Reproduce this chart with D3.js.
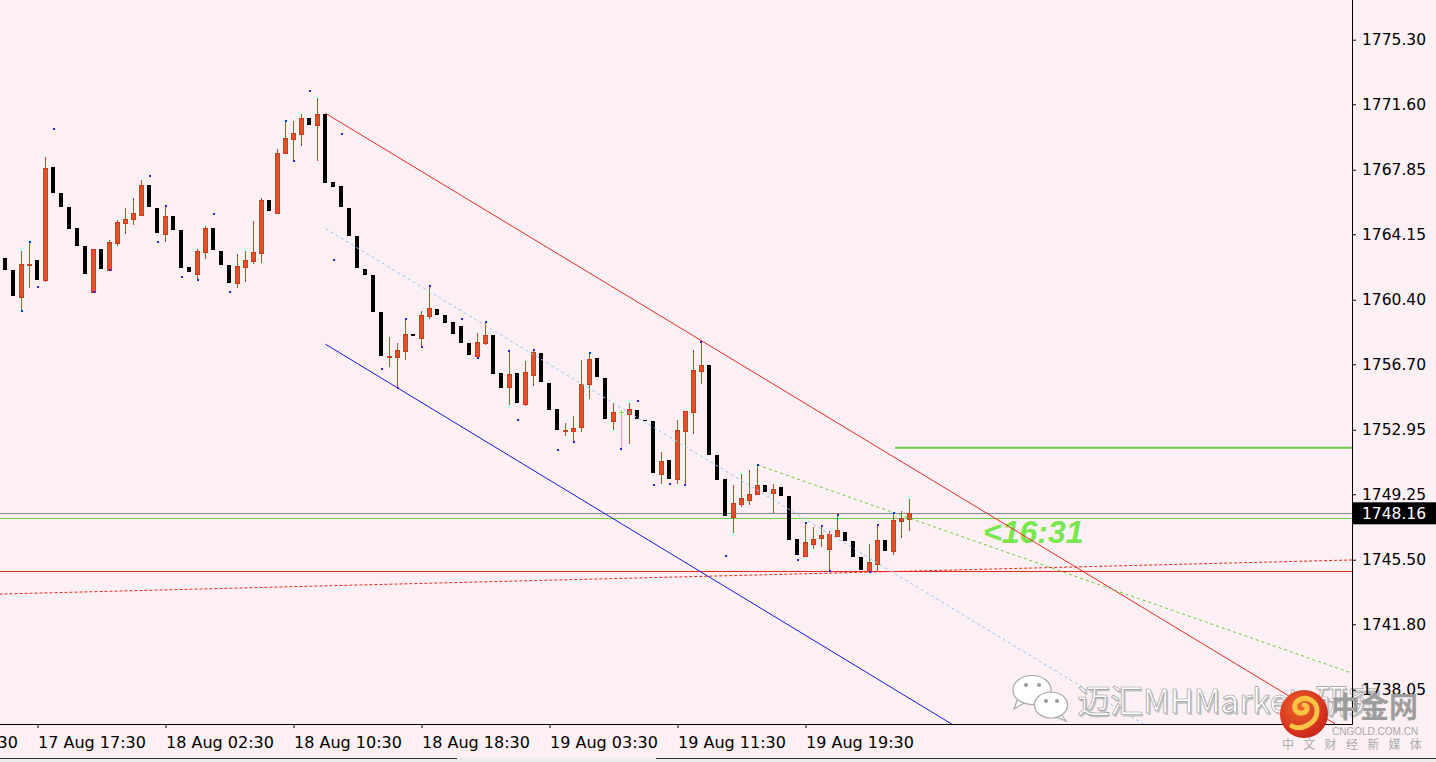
<!DOCTYPE html>
<html><head><meta charset="utf-8">
<script src="https://cdn.jsdelivr.net/npm/d3@7"></script>
<style>html,body{margin:0;padding:0;background:#fcf0f4;overflow:hidden}svg{display:block}</style>
</head><body><svg id="c" width="1436" height="762"></svg>
<script>
// ---------- DATA (XAUUSD M30) ----------
const candleOpen = [
1762.77,1762.10,1760.57,1762.42,1762.68,1761.55,1767.99,1766.50,1765.71,1764.51,
1763.48,1760.86,1763.31,1762.12,1763.67,1764.81,1765.04,1765.27,1766.96,1765.66,
1764.18,1765.20,1764.40,1762.28,1761.89,1763.15,1764.51,1763.19,1762.39,1761.38,
1762.29,1762.62,1763.09,1766.11,1765.39,1768.83,1769.63,1769.91,1770.81,1770.43,
1771.04,1767.15,1766.92,1765.66,1764.05,1762.16,1761.82,1759.70,1757.15,1757.14,
1757.48,1758.44,1758.22,1759.48,1759.87,1759.52,1759.12,1758.89,1757.92,1757.19,
1757.94,1758.38,1756.20,1755.42,1756.20,1754.42,1756.10,1757.35,1755.63,1754.14,
1752.93,1752.89,1753.12,1755.59,1757.06,1755.91,1753.47,1753.91,1753.87,1754.08,
1753.49,1753.45,1750.40,1751.21,1750.14,1752.89,1753.98,1756.33,1756.66,1751.50,
1750.13,1747.97,1748.71,1748.94,1749.25,1749.78,1749.34,1749.69,1749.15,1746.69,
1745.73,1746.42,1746.76,1746.13,1746.88,1747.09,1746.57,1745.66,1744.84,1745.27,
1746.63,1746.02,1747.74,1747.83];
const candleHigh = [
1762.77,1762.10,1763.19,1763.72,1762.68,1768.58,1770.18,1766.50,1765.71,1764.51,
1763.48,1763.29,1763.31,1763.81,1764.97,1765.66,1766.23,1767.26,1767.49,1765.66,
1765.77,1765.20,1764.40,1762.28,1763.29,1764.62,1765.31,1763.19,1762.39,1763.02,
1763.19,1764.91,1766.21,1766.11,1769.02,1770.66,1770.64,1771.04,1772.36,1771.96,
1771.10,1767.15,1769.91,1765.66,1764.05,1762.16,1761.82,1759.70,1758.26,1757.92,
1759.31,1758.44,1759.75,1761.20,1759.87,1759.52,1759.12,1759.30,1757.92,1758.49,
1759.12,1758.38,1756.20,1757.48,1756.20,1756.89,1757.52,1757.35,1755.63,1754.14,
1753.34,1753.74,1756.95,1757.35,1757.06,1755.91,1754.46,1754.08,1754.46,1754.60,
1753.49,1753.45,1751.67,1751.21,1753.51,1754.02,1757.52,1757.99,1756.66,1751.50,
1750.13,1749.78,1750.41,1750.64,1750.95,1749.78,1749.84,1749.69,1749.15,1746.69,
1747.66,1747.39,1747.45,1747.15,1748.08,1747.09,1746.57,1745.66,1746.40,1747.51,
1746.63,1748.20,1748.29,1748.98];
const candleLow = [
1762.10,1760.61,1759.77,1761.09,1761.13,1761.43,1766.53,1765.73,1764.47,1763.50,
1761.89,1760.84,1762.18,1762.10,1763.50,1764.18,1764.70,1765.27,1765.73,1763.71,
1763.72,1764.40,1761.70,1761.99,1761.53,1762.73,1763.25,1762.39,1760.84,1761.07,
1761.42,1762.46,1762.50,1765.48,1765.39,1768.75,1768.35,1769.23,1770.43,1768.37,
1767.11,1762.68,1765.73,1764.07,1762.23,1761.82,1759.71,1756.43,1756.54,1755.32,
1756.96,1758.34,1757.69,1759.31,1759.54,1759.08,1758.45,1757.94,1757.25,1757.04,
1757.82,1756.16,1755.36,1754.38,1753.51,1754.33,1755.47,1755.70,1754.10,1751.79,
1752.61,1752.23,1752.84,1754.69,1755.99,1753.58,1752.95,1751.83,1752.15,1753.58,
1753.45,1749.78,1749.82,1749.84,1749.82,1749.78,1752.72,1755.59,1751.50,1750.07,
1745.73,1747.01,1748.54,1748.65,1749.25,1749.40,1748.20,1749.17,1746.65,1745.50,
1745.73,1746.13,1746.21,1744.87,1746.88,1746.57,1745.66,1744.91,1744.80,1744.84,
1746.00,1745.79,1746.75,1747.16];
const candleClose = [
1762.10,1760.61,1762.45,1762.45,1761.53,1767.93,1766.53,1765.73,1764.47,1763.50,
1761.89,1763.29,1762.18,1763.69,1764.84,1765.01,1765.35,1766.96,1765.73,1764.22,
1765.20,1764.40,1762.22,1761.99,1763.17,1764.51,1763.25,1762.39,1761.36,1762.33,
1762.66,1763.12,1766.10,1765.48,1768.79,1769.65,1769.94,1770.80,1770.43,1771.04,
1767.11,1766.86,1765.73,1764.07,1762.23,1761.82,1759.71,1757.18,1757.16,1757.52,
1758.44,1758.34,1759.52,1759.93,1759.54,1759.08,1758.45,1757.94,1757.25,1757.98,
1758.38,1756.16,1755.36,1756.14,1754.50,1756.26,1757.40,1755.70,1754.10,1752.95,
1752.95,1753.05,1755.55,1757.00,1755.99,1753.58,1753.97,1753.91,1754.12,1753.58,
1753.45,1750.45,1751.16,1750.14,1752.93,1754.02,1756.37,1756.66,1751.50,1750.07,
1748.02,1748.75,1749.04,1749.27,1749.78,1749.40,1749.55,1749.17,1746.65,1745.77,
1746.52,1746.69,1746.92,1746.96,1747.19,1746.57,1745.66,1744.91,1745.37,1746.63,
1746.00,1747.78,1747.89,1748.16];

// fractal marker points (bar index, price)
const fractalBars = [2,3,4,6,11,13,18,19,20,22,24,26,28,35,36,38,41,42,47,49,50,52,53,57,59,60,63,64,66,69,71,73,77,79,81,83,85,87,90,94,99,100,102,103,104,108,109,111];
const fractalPrices = [1759.77,1763.71,1761.13,1770.18,1760.84,1762.10,1767.49,1763.71,1765.77,1761.70,1761.53,1765.31,1760.84,1770.66,1768.35,1772.36,1762.68,1769.91,1756.43,1755.34,1759.30,1757.69,1761.19,1759.30,1757.06,1759.12,1757.46,1753.51,1757.52,1751.79,1752.25,1757.35,1751.85,1754.60,1749.78,1749.84,1749.80,1757.98,1745.73,1750.93,1745.50,1747.62,1747.45,1744.87,1748.08,1744.81,1747.51,1748.20];

// price axis
const priceTicks = [1775.30,1771.60,1767.85,1764.15,1760.40,1756.70,1752.95,1749.25,1745.50,1741.80,1738.05];
const lastPrice = 1748.16;
// time axis
const timeTickBars = [-12,4,20,36,52,68,84,100];
const timeLabels = ["17 Aug 09:30","17 Aug 17:30","18 Aug 02:30","18 Aug 10:30","18 Aug 18:30","19 Aug 03:30","19 Aug 11:30","19 Aug 19:30"];

// drawn objects (two anchor points each: bar index, price)
const channelBars = [40, 87];
const channelUpper = [1771.08, 1758.05];
const channelMid = [1764.47, 1751.42];
const channelLower = [1757.85, 1744.78];
const greenTrendBars = [94, 111];
const greenTrendPrices = [1750.93, 1748.20];
const maBars = [0, 160];
const maPrices = [1743.54, 1745.39];
const greenLevel = 1747.87;
const redLevel = 1744.84;
const resistanceBar = 111.2;
const resistanceLevel = 1751.92;
const timerText = "<16:31";

// ---------- CHART ----------
const W = 1436, H = 762, PR = 1352, PB = 724;
const svg = d3.select("#c");
const x = d3.scaleLinear().domain([0, 113]).range([5.5, 909.5]);
const y = d3.scaleLinear().domain([lastPrice, 1775.30]).range([513.3, 39.7]);
const IDX_MAX = 175;

svg.append("rect").attr("width", W).attr("height", H).attr("fill", "#fcf0f4");
const defs = svg.append("defs");
defs.append("clipPath").attr("id", "plot").append("rect").attr("x", 0).attr("y", 0).attr("width", PR).attr("height", PB);
const rg = defs.append("radialGradient").attr("id", "logoG").attr("cx", "40%").attr("cy", "35%").attr("r", "70%");
rg.append("stop").attr("offset", "0%").attr("stop-color", "#f0642a");
rg.append("stop").attr("offset", "100%").attr("stop-color", "#c8221a");

const plot = svg.append("g").attr("clip-path", "url(#plot)");

// horizontal levels
function hline(p, color, w, x0) {
  plot.append("line").attr("x1", x0 || 0).attr("x2", PR)
    .attr("y1", Math.round(y(p)) + 0.5).attr("y2", Math.round(y(p)) + 0.5)
    .attr("stroke", color).attr("stroke-width", w);
}
hline(redLevel, "#e8291c", 1);
hline(greenLevel, "#6fcf45", 1);
hline(lastPrice, "#8c8c8c", 1);
plot.append("line").attr("x1", x(resistanceBar)).attr("x2", PR)
  .attr("y1", y(resistanceLevel)).attr("y2", y(resistanceLevel))
  .attr("stroke", "#66c844").attr("stroke-width", 2);

// timer text
plot.append("text").attr("x", 983).attr("y", 543).text(timerText)
  .attr("font-family", "Liberation Sans, Arial, sans-serif").attr("font-size", 32)
  .attr("font-weight", "bold").attr("font-style", "italic").attr("fill", "#76e84c");

// candles
const bars = d3.range(candleOpen.length);
const cg = plot.append("g").attr("shape-rendering", "crispEdges");
bars.forEach(i => {
  const o = candleOpen[i], c = candleClose[i], h = candleHigh[i], l = candleLow[i];
  const cx = x(i);
  if (c > o) {
    cg.append("line").attr("x1", cx).attr("x2", cx).attr("y1", y(h)).attr("y2", y(l))
      .attr("stroke", "#ee3322").attr("stroke-width", 1);
    const top = Math.round(y(c)) + 0.5, bot = Math.max(Math.round(y(o)) + 0.5, top + 1);
    cg.append("rect").attr("x", cx - 2).attr("y", top).attr("width", 4).attr("height", bot - top)
      .attr("fill", "#f14a2b").attr("stroke", "#e5301d").attr("stroke-width", 1);
  } else if (c === o) {
    cg.append("line").attr("x1", cx).attr("x2", cx).attr("y1", y(h)).attr("y2", y(l))
      .attr("stroke", "#7ded3f");
    cg.append("line").attr("x1", cx - 2.5).attr("x2", cx + 2.5).attr("y1", y(o)).attr("y2", y(o))
      .attr("stroke", "#7ded3f");
  } else {
    const top = Math.round(y(o));
    const hgt = Math.max(1, Math.round(y(c)) - top);
    cg.append("rect").attr("x", cx - 2.5).attr("y", top).attr("width", 4).attr("height", hgt).attr("fill", "#000");
  }
});

// trend lines (rays)
function ray(b, p, from, to, color, dash) {
  const slope = (p[1] - p[0]) / (b[1] - b[0]);
  const pts = [from, to].map(i => [x(i), y(p[0] + slope * (i - b[0]))]);
  plot.append("path").attr("d", d3.line()(pts)).attr("fill", "none")
    .attr("stroke", color).attr("stroke-width", 1).attr("stroke-dasharray", dash || null);
}
ray(maBars, maPrices, -2, IDX_MAX, "#ee2a1e", "3,2");
ray(channelBars, channelUpper, channelBars[0], IDX_MAX, "#ee2a1e");
ray(channelBars, channelLower, channelBars[0], IDX_MAX, "#1414f0");
ray(channelBars, channelMid, channelBars[0], IDX_MAX, "#8ec8f0", "3,3");
ray(greenTrendBars, greenTrendPrices, greenTrendBars[0], IDX_MAX, "#66cc33", "3,3");

// fractal markers
plot.append("g").selectAll("rect").data(fractalBars).join("rect")
  .attr("x", (d) => Math.round(x(d)) - 1).attr("y", (d, i) => Math.round(y(fractalPrices[i])) - 1)
  .attr("width", 2).attr("height", 2).attr("fill", "#2424d8");

// ---------- WATERMARK (under axes) ----------
const wm = svg.append("g");
function bubble(cx, cy, rx, ry, tail) {
  wm.append("path").attr("d", tail).attr("fill", "#fff").attr("stroke", "#a8a8a8").attr("stroke-width", 1.2);
  wm.append("ellipse").attr("cx", cx).attr("cy", cy).attr("rx", rx).attr("ry", ry)
    .attr("fill", "#fff").attr("stroke", "#a8a8a8").attr("stroke-width", 1.2);
}
bubble(1032, 690, 19, 14.5, "M1018,698 L1014,709 L1026,702 Z");
bubble(1051, 705, 16.5, 13, "M1060,713 L1066,721 L1054,716 Z");
[[1026, 685], [1039, 685], [1046, 701], [1057, 701]].forEach(p =>
  wm.append("circle").attr("cx", p[0]).attr("cy", p[1]).attr("r", 2).attr("fill", "#9a9a9a"));
wm.append("text").attr("x", 1078.5).attr("y", 714.5).text("迈汇MHMarkets研究")
  .attr("font-family", "Noto Sans CJK SC").attr("font-size", 33).attr("fill", "#c4c4c4");
wm.append("text").attr("x", 1077).attr("y", 713).text("迈汇MHMarkets研究")
  .attr("font-family", "Noto Sans CJK SC").attr("font-size", 33).attr("fill", "#ffffff")
  .attr("stroke", "#9c9c9c").attr("stroke-width", 0.7);

// ---------- AXES ----------
svg.append("line").attr("x1", PR + 0.5).attr("x2", PR + 0.5).attr("y1", 0).attr("y2", PB + 0.5).attr("stroke", "#000");
svg.append("line").attr("x1", 0).attr("x2", PR + 0.5).attr("y1", PB + 0.5).attr("y2", PB + 0.5).attr("stroke", "#000");

const yAxis = svg.append("g").attr("transform", `translate(${PR},0)`)
  .call(d3.axisRight(y).tickValues(priceTicks).tickSize(4).tickPadding(6).tickFormat(d3.format(".2f")));
yAxis.select(".domain").remove();
yAxis.selectAll("text").attr("font-family", "DejaVu Sans, Verdana, sans-serif").attr("font-size", 15.5).attr("fill", "#000");

const xAxis = svg.append("g").attr("transform", `translate(0,${PB})`)
  .call(d3.axisBottom(x).tickValues(timeTickBars).tickSize(4).tickFormat((d, i) => timeLabels[i]));
xAxis.select(".domain").remove();
xAxis.selectAll("text").attr("text-anchor", "start").attr("x", 0).attr("y", 23.5).attr("dy", 0)
  .attr("font-family", "DejaVu Sans, Verdana, sans-serif").attr("font-size", 16).attr("fill", "#000");

// last price label
svg.append("rect").attr("x", PR + 1).attr("y", y(lastPrice) - 11).attr("width", W - PR - 1).attr("height", 22).attr("fill", "#000");
svg.append("text").attr("x", PR + 10).attr("y", y(lastPrice)).attr("dy", "0.36em").text(d3.format(".2f")(lastPrice))
  .attr("font-family", "DejaVu Sans, Verdana, sans-serif").attr("font-size", 15.5).attr("fill", "#fff");

// bottom frame strip
svg.append("rect").attr("x", 0).attr("y", 758).attr("width", W).attr("height", 4).attr("fill", "#ececec");
svg.append("line").attr("x1", 0).attr("x2", 457).attr("y1", 758.5).attr("y2", 758.5).attr("stroke", "#333");
svg.append("line").attr("x1", 656).attr("x2", W).attr("y1", 758.5).attr("y2", 758.5).attr("stroke", "#333");

// ---------- LOGO ----------
const lg = svg.append("g");
lg.append("circle").attr("cx", 1304).attr("cy", 714).attr("r", 24).attr("fill", "url(#logoG)");
lg.append("path").attr("d", "M1292,726 C1300,731 1317,724 1317,711 C1317,700 1306,696 1299,700 C1292,704 1294,714 1302,713 C1309,712 1308,705 1304,705")
  .attr("fill", "none").attr("stroke", "#f7c443").attr("stroke-width", 5).attr("stroke-linecap", "round");
lg.append("text").attr("x", 1331).attr("y", 718).text("中金网")
  .attr("font-family", "Noto Sans CJK SC").attr("font-weight", "bold").attr("font-size", 29).attr("fill", "#9d9d9d");
lg.append("text").attr("x", 1332).attr("y", 734.5).text("CNGOLD.COM.CN")
  .attr("font-family", "Liberation Sans, Arial, sans-serif").attr("font-size", 10).attr("fill", "#a8a8a8");
lg.append("text").attr("x", 1282).attr("y", 749).text("中文财经新媒体")
  .attr("font-family", "Noto Sans CJK SC").attr("font-size", 12).attr("letter-spacing", 9.3).attr("fill", "#ababab");
</script></body></html>
